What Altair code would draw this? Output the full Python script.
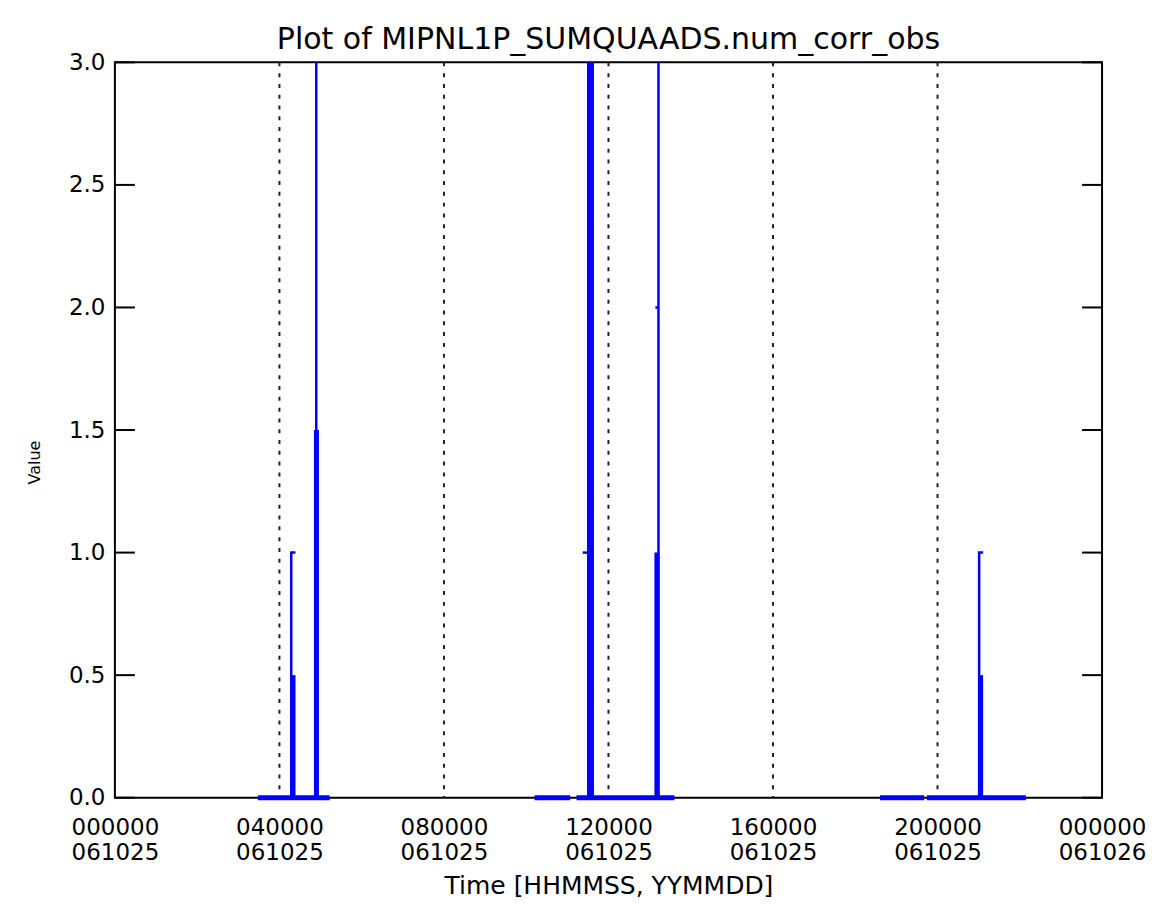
import altair as alt
import pandas as pd

# ---- data (time in hours since 000000 061025) ----
thin_t = [4.287, 4.287, 4.39,
          4.895, 4.895,
          11.372, 11.55,
          13.215, 13.215, 13.14, 13.215, 13.215,
          21.012, 21.012, 21.109]
thin_v = [0.0, 1.0, 1.0,
          0.0, 3.0,
          1.0, 1.0,
          0.0, 2.0, 2.0, 2.0, 3.0,
          0.0, 1.0, 1.0]
thin_seg = ["a1", "a1", "a1",
            "a2", "a2",
            "b1", "b1",
            "b2", "b2", "b2", "b2", "b2",
            "c1", "c1", "c1"]

thick_t = [3.474, 5.223,
           4.33, 4.33,
           4.90, 4.90,
           10.202, 11.07,
           11.223, 13.603,
           13.178, 13.178,
           18.60, 19.676,
           19.742, 22.147,
           21.048, 21.048]
thick_v = [0.0, 0.0,
           0.0, 0.5,
           0.0, 1.5,
           0.0, 0.0,
           0.0, 0.0,
           0.0, 1.0,
           0.0, 0.0,
           0.0, 0.0,
           0.0, 0.5]
thick_seg = ["ba", "ba", "a1", "a1", "a2", "a2", "bb1", "bb1", "bb2", "bb2",
             "b2", "b2", "bc1", "bc1", "bc2", "bc2", "c1", "c1"]

heavy_t = [11.563, 11.563]
heavy_v = [0.0, 3.0]
heavy_seg = ["b1", "b1"]

grid_t = [4, 8, 12, 16, 20]

y_ticks = [0.0, 0.5, 1.0, 1.5, 2.0, 2.5, 3.0]
x_ticks = [0, 4, 8, 12, 16, 20, 24]
x_tick_time = ["000000", "040000", "080000", "120000", "160000", "200000", "000000"]
x_tick_date = ["061025", "061025", "061025", "061025", "061025", "061025", "061026"]

title_text = "Plot of MIPNL1P_SUMQUAADS.num_corr_obs"
x_title = "Time [HHMMSS, YYMMDD]"
y_title = "Value"

FONT = "DejaVu Sans"
W, H = 988, 736


def frame(t, v, seg):
    return pd.DataFrame({"t": t, "v": v, "seg": seg, "i": list(range(len(t)))})


label_js = "[" + ",".join("['%s','%s']" % (a, b) for a, b in zip(x_tick_time, x_tick_date)) + "]"
label_expr = label_js + "[round(datum.value / 4)]"

x_enc = alt.X(
    "t:Q",
    scale=alt.Scale(domain=[0, 24], nice=False, zero=False),
    title=x_title,
    axis=alt.Axis(values=x_ticks, labelExpr=label_expr, tickSize=0, domain=False, grid=False,
                  labelFontSize=23, labelLineHeight=25, labelPadding=19, labelFlush=False,
                  labelOverlap=False, titleFontSize=25, titleBaseline="middle", titleY=88),
)
y_enc = alt.Y(
    "v:Q",
    scale=alt.Scale(domain=[0, 3], nice=False),
    title=y_title,
    axis=alt.Axis(values=y_ticks, format=".1f", tickSize=0, domain=False, grid=False,
                  labelFontSize=23, labelPadding=10, labelFlush=False,
                  titleFontSize=16, titleBaseline="middle", titleX=-80, titleY=400),
)

grid = alt.Chart(pd.DataFrame({"t": grid_t})).mark_rule(
    color="#222222", strokeWidth=2, strokeDash=[4, 6.8]
).encode(x=x_enc)

ytick_df = pd.DataFrame({"v": y_ticks})
ticks_left = alt.Chart(ytick_df).mark_rule(color="black", strokeWidth=2).encode(
    y=y_enc, x=alt.value(0), x2=alt.value(20)
)
ticks_right = alt.Chart(ytick_df).mark_rule(color="black", strokeWidth=2).encode(
    y=y_enc, x=alt.value(W - 20), x2=alt.value(W)
)


def blue(df, width):
    return alt.Chart(df).mark_line(color="#0000ff", strokeWidth=width, strokeCap="butt",
                                   strokeJoin="miter").encode(
        x=x_enc, y=y_enc, detail="seg:N", order="i:Q"
    )


chart = alt.layer(
    grid,
    ticks_left,
    ticks_right,
    blue(frame(thick_t, thick_v, thick_seg), 5),
    blue(frame(heavy_t, heavy_v, heavy_seg), 7),
    blue(frame(thin_t, thin_v, thin_seg), 2.5),
).properties(
    width=W,
    height=H,
    autosize="none",
    background="white",
    padding={"left": 107, "top": 54, "right": 50, "bottom": 116},
    title=alt.TitleParams(title_text, fontSize=30, font=FONT, fontWeight="normal",
                          color="black", anchor="middle", offset=10, dy=17),
).configure_view(
    stroke="black", strokeWidth=2
).configure_axis(
    labelFont=FONT, titleFont=FONT, labelColor="black", titleColor="black",
    titleFontWeight="normal"
)

chart.save("out.html", embed_options={"renderer": "svg", "actions": False})
